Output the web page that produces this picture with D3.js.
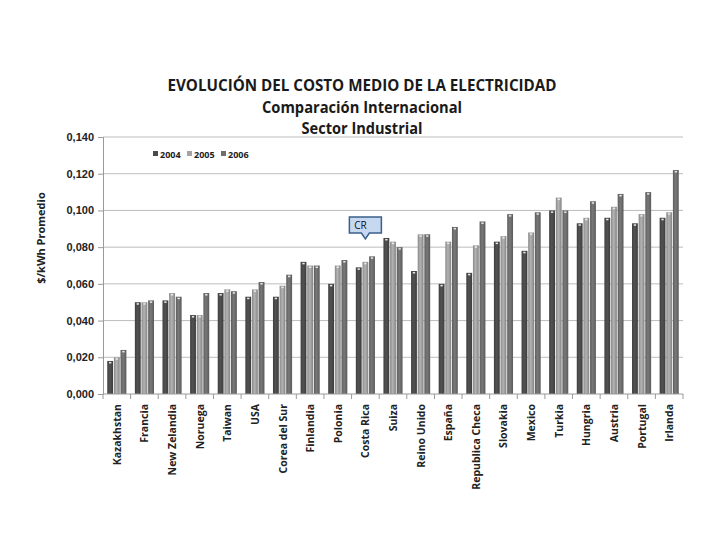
<!DOCTYPE html>
<html>
<head>
<meta charset="utf-8">
<script src="https://cdn.jsdelivr.net/npm/d3@7"></script>
<style>
  body { margin: 0; background: #fff; }
  svg { display: block; font-family: "Open Sans", "Liberation Sans", sans-serif; }
</style>
</head>
<body>
<div id="chart"></div>
<script>
// Data
const countries = ["Kazakhstan", "Francia", "New Zelandia", "Noruega", "Taiwan", "USA",
  "Corea del Sur", "Finlandia", "Polonia", "Costa Rica", "Suiza", "Reino Unido", "España",
  "Republica Checa", "Slovakia", "Mexico", "Turkia", "Hungria", "Austria", "Portugal", "Irlanda"];
const years = ["2004", "2005", "2006"];
const v2004 = [0.018, 0.050, 0.051, 0.043, 0.055, 0.053, 0.053, 0.072, 0.060, 0.069, 0.085,
  0.067, 0.060, 0.066, 0.083, 0.078, 0.100, 0.093, 0.096, 0.093, 0.096];
const v2005 = [0.020, 0.050, 0.055, 0.043, 0.057, 0.057, 0.059, 0.070, 0.070, 0.072, 0.083,
  0.087, 0.083, 0.081, 0.086, 0.088, 0.107, 0.096, 0.102, 0.098, 0.099];
const v2006 = [0.024, 0.051, 0.053, 0.055, 0.056, 0.061, 0.065, 0.070, 0.073, 0.075, 0.080,
  0.087, 0.091, 0.094, 0.098, 0.099, 0.100, 0.105, 0.109, 0.110, 0.122];
const yTicks = [0, 0.02, 0.04, 0.06, 0.08, 0.10, 0.12, 0.14];

const series = [v2004, v2005, v2006];
const colors = ["#4b4b4b", "#a4a4a4", "#6f6f6f"];

const width = 720, height = 540;
const margin = { top: 137, right: 37, bottom: 146, left: 103 };
const innerW = width - margin.left - margin.right;
const innerH = height - margin.top - margin.bottom;

const svg = d3.select("#chart").append("svg")
    .attr("width", width)
    .attr("height", height);

// gradients for the cylinder-ish bars
const defs = svg.append("defs");
colors.forEach((c, i) => {
  const g = defs.append("linearGradient").attr("id", "grad" + i)
      .attr("x1", "0%").attr("x2", "100%").attr("y1", "0%").attr("y2", "0%");
  const base = d3.color(c);
  g.append("stop").attr("offset", "0%").attr("stop-color", base.darker(0.5));
  g.append("stop").attr("offset", "45%").attr("stop-color", base.brighter(0.25));
  g.append("stop").attr("offset", "100%").attr("stop-color", base.darker(0.6));
});

// Titles
const titles = [
  { text: "EVOLUCIÓN DEL COSTO MEDIO DE LA ELECTRICIDAD", y: 91, len: 389 },
  { text: "Comparación Internacional", y: 113, len: 200 },
  { text: "Sector Industrial", y: 134, len: 121 }
];
svg.selectAll("text.title")
  .data(titles)
  .join("text")
    .attr("class", "title")
    .attr("x", 362)
    .attr("y", d => d.y)
    .attr("text-anchor", "middle")
    .attr("font-size", 16)
    .attr("font-weight", "bold")
    .attr("fill", "#1a1a1a")
    .attr("textLength", d => d.len)
    .attr("lengthAdjust", "spacingAndGlyphs")
    .text(d => d.text);

const g = svg.append("g").attr("transform", `translate(${margin.left},${margin.top})`);

const x0 = d3.scaleBand().domain(countries).range([0, innerW]).paddingInner(0.25).paddingOuter(0.125);
const x1 = d3.scaleBand().domain(years).range([0, x0.bandwidth()]).padding(0.12);
const y = d3.scaleLinear().domain([0, 0.14]).range([innerH, 0]);

// gridlines
g.append("g")
  .selectAll("line")
  .data(yTicks.filter(d => d > 0))
  .join("line")
    .attr("x1", 0).attr("x2", innerW)
    .attr("y1", d => y(d)).attr("y2", d => y(d))
    .attr("stroke", "#bdbdbd")
    .attr("stroke-width", 1);

// y axis
const fmt = d => d3.format(".3f")(d).replace(".", ",");
const yAxis = g.append("g")
  .call(d3.axisLeft(y).tickValues(yTicks).tickFormat(fmt).tickSize(5).tickPadding(4));
yAxis.select(".domain").attr("stroke", "#9a9a9a");
yAxis.selectAll(".tick line").attr("stroke", "#9a9a9a");
yAxis.selectAll(".tick text")
  .attr("font-size", 11)
  .attr("font-weight", "bold")
  .attr("fill", "#222")
  .attr("font-family", "'Liberation Sans Narrow', 'Liberation Sans', sans-serif");

// bars
const groups = g.append("g")
  .selectAll("g")
  .data(countries)
  .join("g")
    .attr("transform", d => `translate(${x0(d)},0)`);

groups.selectAll("rect")
  .data((d, i) => years.map((yr, k) => ({ yr, k, value: series[k][i] })))
  .join("rect")
    .attr("x", d => x1(d.yr))
    .attr("width", x1.bandwidth())
    .attr("y", d => y(d.value))
    .attr("height", d => innerH - y(d.value))
    .attr("fill", d => `url(#grad${d.k})`);

// light caps on top of bars
groups.selectAll("rect.cap")
  .data((d, i) => years.map((yr, k) => ({ yr, k, value: series[k][i] })))
  .join("rect")
    .attr("class", "cap")
    .attr("x", d => x1(d.yr) + x1.bandwidth() * 0.3)
    .attr("width", x1.bandwidth() * 0.4)
    .attr("y", d => y(d.value) + 1)
    .attr("height", 1.5)
    .attr("fill", "#e8e8e8");

// x axis with ticks between categories
const step = x0.step();
g.append("line")
  .attr("x1", 0).attr("x2", innerW)
  .attr("y1", innerH).attr("y2", innerH)
  .attr("stroke", "#9a9a9a");
g.append("g")
  .selectAll("line")
  .data(d3.range(countries.length + 1))
  .join("line")
    .attr("x1", i => i * step).attr("x2", i => i * step)
    .attr("y1", innerH).attr("y2", innerH + 5)
    .attr("stroke", "#9a9a9a");

// category labels
g.append("g")
  .selectAll("text")
  .data(countries)
  .join("text")
    .attr("transform", d => `translate(${x0(d) + x0.bandwidth() / 2 + 4},${innerH + 10}) rotate(-90)`)
    .attr("text-anchor", "end")
    .attr("font-size", 10.5)
    .attr("font-weight", "bold")
    .attr("fill", "#222")
    .text(d => d);

// y axis title
svg.append("text")
  .attr("transform", "translate(45,238) rotate(-90)")
  .attr("text-anchor", "middle")
  .attr("font-size", 11)
  .attr("font-weight", "bold")
  .attr("fill", "#222")
  .text("$/kWh Promedio");

// legend
const legend = svg.append("g").attr("transform", "translate(153,155)");
const lx = [0, 34, 68];
years.forEach((yr, k) => {
  legend.append("rect")
    .attr("x", lx[k]).attr("y", -4)
    .attr("width", 5).attr("height", 5)
    .attr("fill", colors[k]);
  legend.append("text")
    .attr("x", lx[k] + 7).attr("y", 1)
    .attr("dominant-baseline", "middle")
    .attr("font-size", 9)
    .attr("font-weight", "bold")
    .attr("fill", "#222")
    .text(yr);
});

// CR callout pointing at Costa Rica
const crX = margin.left + x0("Costa Rica") + x0.bandwidth() / 2;
const crTop = 217, crBottom = 233, crHalf = 16;
const callout = svg.append("g");
callout.append("path")
  .attr("d", `M${crX - crHalf},${crTop} H${crX + crHalf} V${crBottom} H${crX + 4} L${crX},${crBottom + 6} L${crX - 4},${crBottom} H${crX - crHalf} Z`)
  .attr("fill", "#c6d9f1")
  .attr("stroke", "#3d5f8c")
  .attr("stroke-width", 1.5);
callout.append("text")
  .attr("x", crX - 5).attr("y", crTop + 12)
  .attr("text-anchor", "middle")
  .attr("font-size", 10)
  .attr("fill", "#111")
  .text("CR");
</script>
</body>
</html>
